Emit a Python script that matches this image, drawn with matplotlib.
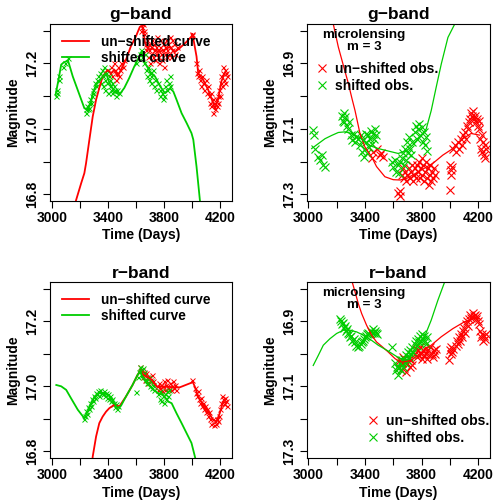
import matplotlib
matplotlib.use("Agg")
import matplotlib.pyplot as plt

plt.rcParams['font.family'] = ['Liberation Sans', 'DejaVu Sans']
plt.rcParams['font.weight'] = 'bold'

RED = '#FF0000'
GREEN = '#00CD00'
W, H = 493, 500

# ---------------- g-band, plain shift ----------------
g_red_curve_t = [3150, 3171, 3207, 3230, 3242, 3266, 3290, 3314, 3337, 3361, 3397, 3421, 3444, 3468,
                 3492, 3527, 3563, 3599, 3627, 3645, 3665, 3688, 3720, 3760, 3800, 3840, 3880, 3914,
                 3960, 3997, 4004, 4033, 4045, 4080, 4116, 4152, 4164, 4187, 4211, 4235]
g_red_curve_m = [16.75, 16.783, 16.834, 16.865, 16.895, 16.967, 17.038, 17.089, 17.125, 17.16, 17.18,
                 17.17, 17.18, 17.16, 17.18, 17.21, 17.252, 17.282, 17.311, 17.315, 17.262, 17.242,
                 17.245, 17.235, 17.24, 17.25, 17.235, 17.247, 17.265, 17.282, 17.29, 17.221, 17.17,
                 17.15, 17.12, 17.079, 17.06, 17.089, 17.145, 17.17]

g_green_curve_t = [3024, 3048, 3064, 3083, 3100, 3112, 3147, 3195, 3230, 3254, 3278, 3290, 3314, 3337,
                   3361, 3385, 3410, 3444, 3480, 3516, 3551, 3587, 3623, 3640, 3665, 3700, 3736, 3772,
                   3807, 3843, 3867, 3890, 3926, 3962, 3997, 4010, 4033, 4057, 4070]
g_green_curve_m = [17.104, 17.157, 17.196, 17.203, 17.206, 17.21, 17.16, 17.104, 17.063, 17.058, 17.084,
                   17.109, 17.135, 17.145, 17.16, 17.17, 17.14, 17.114, 17.104, 17.125, 17.155, 17.19,
                   17.22, 17.236, 17.2, 17.175, 17.16, 17.13, 17.109, 17.124, 17.114, 17.089, 17.048,
                   17.018, 16.987, 16.967, 16.885, 16.783, 16.74]

g_red_obs_t = [3410, 3420, 3430, 3440, 3448, 3455, 3462, 3470, 3478, 3485, 3495, 3505, 3515,
               3632, 3640, 3648, 3655, 3660,
               3668, 3672, 3676, 3680, 3685, 3690, 3695, 3700, 3705, 3710, 3715, 3720, 3725, 3730,
               3735, 3740, 3745, 3750, 3755, 3760, 3765, 3770, 3775, 3780, 3785, 3790, 3795, 3800,
               3805, 3810, 3815, 3820, 3825, 3830, 3835, 3840, 3845, 3850, 3855, 3860, 3870, 3880, 3890,
               3998, 4004,
               4030, 4038, 4045, 4052, 4060, 4068, 4075, 4082, 4090, 4098, 4105, 4112, 4120, 4128,
               4135, 4140, 4148, 4153, 4158, 4165, 4172, 4178, 4185, 4190, 4195, 4200, 4205, 4210,
               4215, 4220, 4225, 4230, 4235, 4240, 4245, 4250]
g_red_obs_m = [17.17, 17.19, 17.16, 17.2, 17.18, 17.15, 17.17, 17.19, 17.16, 17.18, 17.2, 17.19, 17.21,
               17.3, 17.31, 17.32, 17.3, 17.29,
               17.26, 17.24, 17.27, 17.25, 17.22, 17.26, 17.24, 17.2, 17.23, 17.25, 17.27, 17.22,
               17.24, 17.26, 17.21, 17.23, 17.25, 17.28, 17.24, 17.22, 17.2, 17.25, 17.27, 17.23,
               17.21, 17.24, 17.26, 17.19, 17.23, 17.25, 17.27, 17.22, 17.24, 17.26, 17.23, 17.28,
               17.25, 17.22, 17.27, 17.24, 17.26, 17.23, 17.25,
               17.29, 17.285,
               17.2, 17.17, 17.16, 17.18, 17.15, 17.13, 17.16, 17.14, 17.12, 17.15, 17.11, 17.13,
               17.1, 17.08, 17.11, 17.07, 17.09, 17.05, 17.08, 17.06, 17.09, 17.07, 17.1, 17.08,
               17.12, 17.1, 17.14, 17.16, 17.13, 17.19, 17.17, 17.15, 17.18, 17.14, 17.17, 17.16]

g_green_obs_t = [3030, 3032, 3035, 3045, 3050, 3080, 3090, 3110,
                 3240, 3245, 3250, 3255, 3260, 3265, 3270, 3275, 3285, 3290, 3295, 3305, 3310, 3320, 3330,
                 3345, 3350, 3355, 3360, 3365, 3370, 3375, 3380, 3385, 3390, 3395, 3400, 3405, 3410,
                 3415, 3420, 3425, 3430, 3440, 3450, 3460, 3465, 3475,
                 3600, 3615, 3625, 3635, 3645, 3655, 3665, 3670, 3680, 3685, 3690, 3700, 3705, 3710,
                 3720, 3725, 3735, 3745, 3760, 3770, 3775, 3785, 3790, 3800, 3810, 3815, 3825, 3835,
                 3840, 3845]
g_green_obs_m = [17.1, 17.12, 17.11, 17.15, 17.16, 17.19, 17.2, 17.215,
                 17.06, 17.05, 17.07, 17.06, 17.08, 17.065, 17.09, 17.08, 17.1, 17.12, 17.11, 17.14,
                 17.13, 17.15, 17.16,
                 17.17, 17.14, 17.18, 17.13, 17.16, 17.19, 17.15, 17.12, 17.17, 17.14, 17.18, 17.11,
                 17.16, 17.13, 17.15, 17.12, 17.14, 17.11, 17.13, 17.12, 17.1, 17.12, 17.11,
                 17.2, 17.22, 17.23, 17.24, 17.22, 17.2, 17.23, 17.18, 17.16, 17.19, 17.15, 17.17,
                 17.14, 17.16, 17.18, 17.13, 17.15, 17.12, 17.14, 17.12, 17.1, 17.11, 17.09, 17.1,
                 17.13, 17.15, 17.12, 17.14, 17.16, 17.13]

# ---------------- g-band, microlensing m = 3 ----------------
gm_red_curve_t = [3150, 3177, 3212, 3250, 3282, 3310, 3330, 3365, 3400, 3447, 3482, 3541, 3600, 3650,
                  3700, 3760, 3820, 3880, 3950, 4021, 4092, 4150, 4209]
gm_red_curve_m = [16.70, 16.781, 16.85, 16.91, 16.96, 17.01, 17.044, 17.114, 17.155, 17.185, 17.215,
                  17.246, 17.255, 17.256, 17.25, 17.235, 17.22, 17.205, 17.18, 17.16, 17.13, 17.114, 17.119]

gm_green_curve_t = [3024, 3071, 3118, 3165, 3212, 3259, 3306, 3353, 3400, 3447, 3494, 3541, 3588, 3635,
                    3700, 3760, 3800, 3833, 3868, 3903, 3939, 3986, 4033, 4050]
gm_green_curve_m = [17.16, 17.145, 17.13, 17.12, 17.111, 17.109, 17.114, 17.124, 17.14, 17.153, 17.16,
                    17.165, 17.17, 17.175, 17.165, 17.14, 17.12, 17.1, 17.044, 16.973, 16.902, 16.821,
                    16.781, 16.75]

gm_red_obs_t = [3447, 3460, 3482, 3506, 3515, 3530, 3635, 3645, 3650,
                3665, 3670, 3678, 3685, 3692, 3700, 3708, 3715, 3722, 3730, 3738, 3745, 3752, 3760,
                3770, 3775, 3782, 3788, 3795, 3800, 3805, 3812, 3818, 3825, 3830, 3838, 3845, 3850,
                3856, 3862, 3868, 3875, 3882, 3890, 3898,
                3998, 4000, 4005, 4010, 4015,
                4025, 4035, 4045, 4055, 4065, 4075, 4085, 4095, 4105, 4112, 4120, 4128, 4135, 4142,
                4150, 4158, 4165, 4172, 4178, 4185, 4190, 4197, 4202, 4208, 4215, 4220, 4225, 4230,
                4235, 4240, 4245, 4250, 4255]
gm_red_obs_m = [17.19, 17.17, 17.16, 17.18, 17.175, 17.185, 17.296, 17.305, 17.29,
                17.24, 17.22, 17.25, 17.23, 17.26, 17.24, 17.22, 17.25, 17.23, 17.21, 17.26, 17.24,
                17.22, 17.25,
                17.21, 17.23, 17.2, 17.25, 17.22, 17.19, 17.24, 17.21, 17.26, 17.23, 17.2, 17.25,
                17.22, 17.27, 17.24, 17.21, 17.26, 17.23, 17.25, 17.22, 17.24,
                17.285, 17.21, 17.225, 17.24, 17.215,
                17.16, 17.15, 17.17, 17.14, 17.16, 17.13, 17.15, 17.12, 17.11, 17.13, 17.09, 17.1,
                17.08, 17.07, 17.05, 17.06, 17.045, 17.07, 17.06, 17.08, 17.07, 17.09, 17.075, 17.1,
                17.13, 17.16, 17.12, 17.17, 17.14, 17.18, 17.15, 17.19, 17.16]

gm_green_obs_t = [3035, 3037, 3047, 3071, 3083, 3094, 3106, 3118,
                  3235, 3242, 3250, 3255, 3262, 3270, 3278, 3285,
                  3300, 3310, 3320, 3330, 3340, 3350,
                  3365, 3372, 3378, 3385, 3390, 3398, 3405, 3410, 3418, 3425, 3430, 3438, 3445, 3450,
                  3458, 3465, 3472, 3480,
                  3590, 3600, 3610, 3620, 3630, 3640, 3648,
                  3660, 3668, 3675, 3682, 3690, 3698, 3705, 3712, 3720, 3728, 3735,
                  3755, 3762, 3770, 3778, 3785, 3792, 3800, 3808, 3815, 3822, 3830, 3838]
gm_green_obs_m = [17.104, 17.119, 17.16, 17.185, 17.195, 17.18, 17.21, 17.215,
                  17.06, 17.075, 17.05, 17.08, 17.065, 17.09, 17.1, 17.08,
                  17.12, 17.135, 17.115, 17.14, 17.125, 17.13,
                  17.15, 17.12, 17.17, 17.135, 17.185, 17.16, 17.115, 17.14, 17.175, 17.12, 17.155,
                  17.13, 17.105, 17.145, 17.115, 17.13, 17.1, 17.12,
                  17.2, 17.215, 17.195, 17.23, 17.21, 17.235, 17.2,
                  17.19, 17.175, 17.21, 17.16, 17.195, 17.14, 17.175, 17.125, 17.16, 17.18, 17.14,
                  17.11, 17.09, 17.13, 17.1, 17.085, 17.12, 17.095, 17.14, 17.11, 17.15, 17.125, 17.168]

# ---------------- r-band, plain shift ----------------
r_red_curve_t = [3280, 3290, 3314, 3337, 3361, 3385, 3409, 3444, 3480, 3527, 3575, 3611, 3634, 3653,
                 3677, 3712, 3748, 3783, 3819, 3867, 3914, 3997, 4004, 4021, 4045, 4080, 4116, 4152,
                 4176, 4199, 4223, 4247]
r_red_curve_m = [16.75, 16.785, 16.846, 16.887, 16.907, 16.922, 16.933, 16.943, 16.938, 16.968, 17.004,
                 17.035, 17.05, 17.035, 17.03, 17.02, 16.999, 16.999, 16.999, 16.997, 16.997, 17.011,
                 17.015, 16.999, 16.968, 16.943, 16.922, 16.897, 16.892, 16.917, 16.953, 16.948]

r_green_curve_t = [3029, 3064, 3100, 3135, 3183, 3230, 3254, 3278, 3302, 3337, 3373, 3409, 3444, 3468,
                   3492, 3527, 3575, 3611, 3634, 3641, 3677, 3724, 3760, 3795, 3831, 3855, 3890, 3926,
                   3962, 3997, 4021, 4035]
r_green_curve_m = [17.004, 17.0, 16.989, 16.963, 16.928, 16.902, 16.923, 16.948, 16.968, 16.981, 16.979,
                   16.97, 16.948, 16.933, 16.94, 16.968, 17.004, 17.035, 17.05, 17.03, 17.009, 16.989,
                   16.979, 16.973, 16.953, 16.948, 16.917, 16.887, 16.856, 16.826, 16.785, 16.76]

r_red_obs_t = [3630, 3640, 3648, 3655, 3662, 3670, 3678, 3685, 3692, 3700, 3712, 3720,
               3750, 3758, 3765, 3772, 3780, 3788, 3795, 3802, 3810, 3818, 3825, 3832, 3840, 3848,
               3855, 3862, 3870, 3878, 3885,
               4004,
               4020, 4028, 4035, 4042, 4050, 4058, 4065, 4072, 4080, 4088, 4095, 4102, 4110, 4118,
               4125, 4132, 4140, 4148, 4155, 4162, 4170, 4178, 4185, 4192, 4200, 4208, 4215, 4222,
               4230, 4238, 4245, 4250]
r_red_obs_m = [17.06, 17.05, 17.03, 17.045, 17.02, 17.04, 17.025, 17.01, 17.03, 17.02, 17.035, 17.015,
               17.0, 16.99, 17.01, 16.995, 17.005, 16.985, 17.0, 17.015, 16.99, 17.005, 17.02, 16.995,
               17.01, 16.99, 17.0, 17.015, 16.995, 17.005, 16.99,
               17.02,
               16.995, 16.98, 16.97, 16.985, 16.96, 16.95, 16.965, 16.94, 16.95, 16.93, 16.94, 16.92,
               16.93, 16.91, 16.92, 16.9, 16.885, 16.9, 16.88, 16.895, 16.885, 16.9, 16.895, 16.91,
               16.93, 16.95, 16.97, 16.96, 16.945, 16.965, 16.955, 16.94]

r_green_obs_t = [3230, 3238, 3245, 3252, 3258, 3265, 3272, 3278, 3285, 3292, 3300, 3308, 3315, 3322,
                 3330, 3338, 3345, 3352, 3360, 3368, 3375, 3382, 3390, 3398, 3405, 3412, 3420, 3428,
                 3435, 3442, 3450, 3458, 3465, 3472,
                 3599, 3615, 3622, 3630, 3638, 3645, 3652, 3660, 3668, 3675, 3682, 3690, 3698, 3705,
                 3712, 3720, 3728,
                 3760, 3768, 3775, 3782, 3790, 3798, 3805, 3812, 3820, 3828, 3835]
r_green_obs_m = [16.9, 16.91, 16.925, 16.915, 16.935, 16.93, 16.95, 16.94, 16.96, 16.955, 16.97, 16.965,
                 16.98, 16.975, 16.985, 16.97, 16.99, 16.98, 16.975, 16.985, 16.97, 16.98, 16.965,
                 16.975, 16.96, 16.97, 16.955, 16.96, 16.945, 16.95, 16.935, 16.945, 16.93, 16.94,
                 16.984, 17.03, 17.045, 17.06, 17.05, 17.035, 17.055, 17.04, 17.02, 17.03, 17.01,
                 17.025, 17.0, 17.015, 16.995, 17.005, 16.99,
                 16.975, 16.96, 16.985, 16.955, 16.97, 16.95, 16.975, 16.96, 16.985, 16.97, 16.99]

# ---------------- r-band, microlensing m = 3 ----------------
rm_red_curve_t = [3290, 3306, 3330, 3353, 3377, 3412, 3447, 3482, 3518, 3565, 3612, 3647, 3680, 3727,
                  3774, 3821, 3868, 3939, 4021, 4103, 4174, 4200]
rm_red_curve_m = [16.74, 16.774, 16.81, 16.846, 16.877, 16.913, 16.943, 16.964, 16.977, 16.995, 17.015,
                  17.025, 17.025, 17.02, 17.005, 16.989, 16.974, 16.948, 16.923, 16.902, 16.892, 16.893]

rm_green_curve_t = [3035, 3071, 3106, 3153, 3200, 3247, 3294, 3341, 3388, 3447, 3494, 3553, 3600, 3647,
                    3680, 3727, 3774, 3821, 3868, 3915, 3950, 3980, 4000]
rm_green_curve_m = [17.036, 17.005, 16.974, 16.954, 16.938, 16.928, 16.928, 16.933, 16.943, 16.959,
                    16.974, 16.989, 17.002, 17.015, 17.015, 17.0, 16.974, 16.948, 16.897, 16.836,
                    16.795, 16.76, 16.74]

rm_red_obs_t = [3640, 3648, 3655, 3662, 3670, 3678, 3685, 3692, 3700, 3708, 3715, 3722, 3730,
                3750, 3758, 3765, 3772, 3780, 3788, 3795, 3802, 3810, 3818, 3825, 3832, 3840, 3848,
                3855, 3862, 3870, 3878, 3885, 3892, 3900,
                3997, 4000, 4005, 4010, 4015, 4020,
                4040, 4048, 4055, 4062, 4070, 4078, 4085, 4092, 4100, 4108, 4115, 4122, 4130, 4138,
                4145, 4152, 4160, 4168, 4175, 4182, 4190, 4197, 4205, 4212, 4220, 4228, 4235, 4242,
                4250, 4256]
rm_red_obs_m = [17.04, 17.02, 17.05, 17.03, 17.01, 17.045, 17.025, 17.055, 17.03, 17.015, 17.04, 17.02,
                17.035,
                17.0, 16.985, 17.01, 16.99, 17.005, 16.98, 17.0, 17.015, 16.99, 17.005, 16.985, 17.0,
                17.015, 16.99, 17.005, 16.98, 17.0, 17.01, 16.99, 17.0, 16.985,
                17.02, 16.99, 17.0, 16.98, 16.995, 16.985,
                16.975, 16.96, 16.97, 16.95, 16.96, 16.94, 16.95, 16.93, 16.92, 16.935, 16.91, 16.9,
                16.915, 16.895, 16.88, 16.89, 16.875, 16.885, 16.88, 16.895, 16.885, 16.9, 16.91,
                16.93, 16.95, 16.94, 16.96, 16.945, 16.955, 16.94]

rm_green_obs_t = [3224, 3230, 3238, 3245, 3252, 3258, 3265, 3272, 3280, 3290, 3298, 3305, 3312, 3320,
                  3330, 3340, 3350, 3360, 3370, 3380, 3388, 3395, 3402, 3410, 3418, 3425, 3432, 3440,
                  3448, 3455, 3462, 3470, 3478, 3485,
                  3588,
                  3610, 3618, 3625, 3632, 3638, 3645, 3652, 3660, 3668, 3675, 3682, 3690, 3698, 3705,
                  3712, 3720, 3728, 3735, 3742,
                  3750, 3758, 3765, 3772, 3780, 3788, 3795, 3802, 3810, 3818, 3825, 3832, 3838]
rm_green_obs_m = [16.892, 16.9, 16.91, 16.905, 16.92, 16.915, 16.93, 16.925, 16.935, 16.94, 16.95,
                  16.945, 16.96, 16.955, 16.965, 16.975, 16.98, 16.975, 16.97, 16.965, 16.96, 16.955,
                  16.95, 16.945, 16.94, 16.935, 16.94, 16.93, 16.935, 16.925, 16.935, 16.93, 16.935,
                  16.94,
                  16.979,
                  17.03, 17.05, 17.04, 17.065, 17.045, 17.03, 17.05, 17.02, 17.04, 17.015, 17.03,
                  17.005, 17.02, 16.995, 17.01, 16.99, 17.0, 16.98, 16.995,
                  16.97, 16.96, 16.975, 16.955, 16.965, 16.945, 16.96, 16.94, 16.955, 16.945, 16.96,
                  16.97, 16.95]

mag_ticks = [16.8, 16.9, 17.0, 17.1, 17.2, 17.3]
day_ticks = [3000, 3200, 3400, 3600, 3800, 4000, 4200]
day_labels = ['3000', '', '3400', '', '3800', '', '4200']


def px_box(l, t, r, b):
    return [l / W, 1 - b / H, (r - l) / W, (b - t) / H]


def setup(ax, xlim, ylim, ylabels):
    ax.set_xlim(*xlim)
    ax.set_ylim(*ylim)
    ax.set_xticks(day_ticks)
    ax.set_xticklabels(day_labels)
    ax.set_yticks(mag_ticks)
    ax.set_yticklabels(ylabels)
    ax.tick_params(length=5, width=0.8, labelsize=10, pad=2.5, direction='out')
    for lab in ax.get_yticklabels():
        lab.set_rotation(90)
        lab.set_va('center')
    for s in ax.spines.values():
        s.set_linewidth(0.8)


fig = plt.figure(figsize=(W / 100, H / 100), dpi=100)

panels = [
    # (box, title, xlim, ylim, ylabels, curves, obs, microlensing)
    ((50, 24, 232, 201), 'g−band', (2984, 4287), (16.78, 17.32),
     ['16.8', '', '17.0', '', '17.2', ''],
     (g_red_curve_t, g_red_curve_m, g_green_curve_t, g_green_curve_m),
     (g_red_obs_t, g_red_obs_m, g_green_obs_t, g_green_obs_m), False),
    ((307, 24, 490, 201), 'g−band', (2991, 4283), (17.32, 16.78),
     ['', '16.9', '', '17.1', '', '17.3'],
     (gm_red_curve_t, gm_red_curve_m, gm_green_curve_t, gm_green_curve_m),
     (gm_red_obs_t, gm_red_obs_m, gm_green_obs_t, gm_green_obs_m), True),
    ((50, 282, 232, 458), 'r−band', (2984, 4287), (16.78, 17.32),
     ['16.8', '', '17.0', '', '17.2', ''],
     (r_red_curve_t, r_red_curve_m, r_green_curve_t, r_green_curve_m),
     (r_red_obs_t, r_red_obs_m, r_green_obs_t, r_green_obs_m), False),
    ((307, 282, 490, 458), 'r−band', (2991, 4283), (17.32, 16.78),
     ['', '16.9', '', '17.1', '', '17.3'],
     (rm_red_curve_t, rm_red_curve_m, rm_green_curve_t, rm_green_curve_m),
     (rm_red_obs_t, rm_red_obs_m, rm_green_obs_t, rm_green_obs_m), True),
]

for i, (bx, title, xlim, ylim, ylabels, curves, obs, micro) in enumerate(panels):
    ax = fig.add_axes(px_box(*bx))
    setup(ax, xlim, ylim, ylabels)
    l, t, r, b = bx
    dy = 0 if i < 2 else 258
    if micro:
        ms, mew, lw = 5.5, 0.8, 0.9
    else:
        ms, mew, lw = 3.6, 0.7, 1.3
    ro = ax.plot(obs[0], obs[1], 'x', color=RED, ms=ms, mew=mew, ls='none')[0]
    go = ax.plot(obs[2], obs[3], 'x', color=GREEN, ms=ms, mew=mew, ls='none')[0]
    rc = ax.plot(curves[0], curves[1], color=RED, lw=lw)[0]
    gc = ax.plot(curves[2], curves[3], color=GREEN, lw=lw)[0]

    fig.text((l + r) / 2 / W, 1 - (15 + dy) / H, title, ha='center', va='center', fontsize=12.5)
    fig.text((l + r) / 2 / W, 1 - (235 + dy) / H, 'Time (Days)', ha='center', va='center', fontsize=10)
    fig.text((l - 37) / W, 1 - (t + b) / 2 / H, 'Magnitude', ha='center', va='center',
             rotation=90, fontsize=10)

    if micro:
        fig.text(364 / W, 1 - (38 + dy) / H, 'microlensing', ha='center', va='baseline', fontsize=9.6)
        fig.text(364 / W, 1 - (50 + dy) / H, 'm = 3', ha='center', va='baseline', fontsize=9.6)
        if i == 1:
            anchor = (315 / W, 1 - 62 / H)
        else:
            anchor = (366 / W, 1 - 414 / H)
        ax.legend([ro, go], ['un−shifted obs.', 'shifted obs.'], loc='upper left',
                  bbox_to_anchor=anchor, bbox_transform=fig.transFigure, frameon=False,
                  fontsize=10, handlelength=1.0, handletextpad=0.45, labelspacing=0.2,
                  borderpad=0, borderaxespad=0, numpoints=1, markerscale=1.05)
    else:
        ax.legend([rc, gc], ['un−shifted curve', 'shifted curve'], loc='upper left',
                  bbox_to_anchor=(62 / W, 1 - (35 + dy) / H), bbox_transform=fig.transFigure,
                  frameon=False, fontsize=9.8, handlelength=2.0, handletextpad=0.85,
                  labelspacing=0.15, borderpad=0, borderaxespad=0)

fig.savefig('out.png', dpi=100)
